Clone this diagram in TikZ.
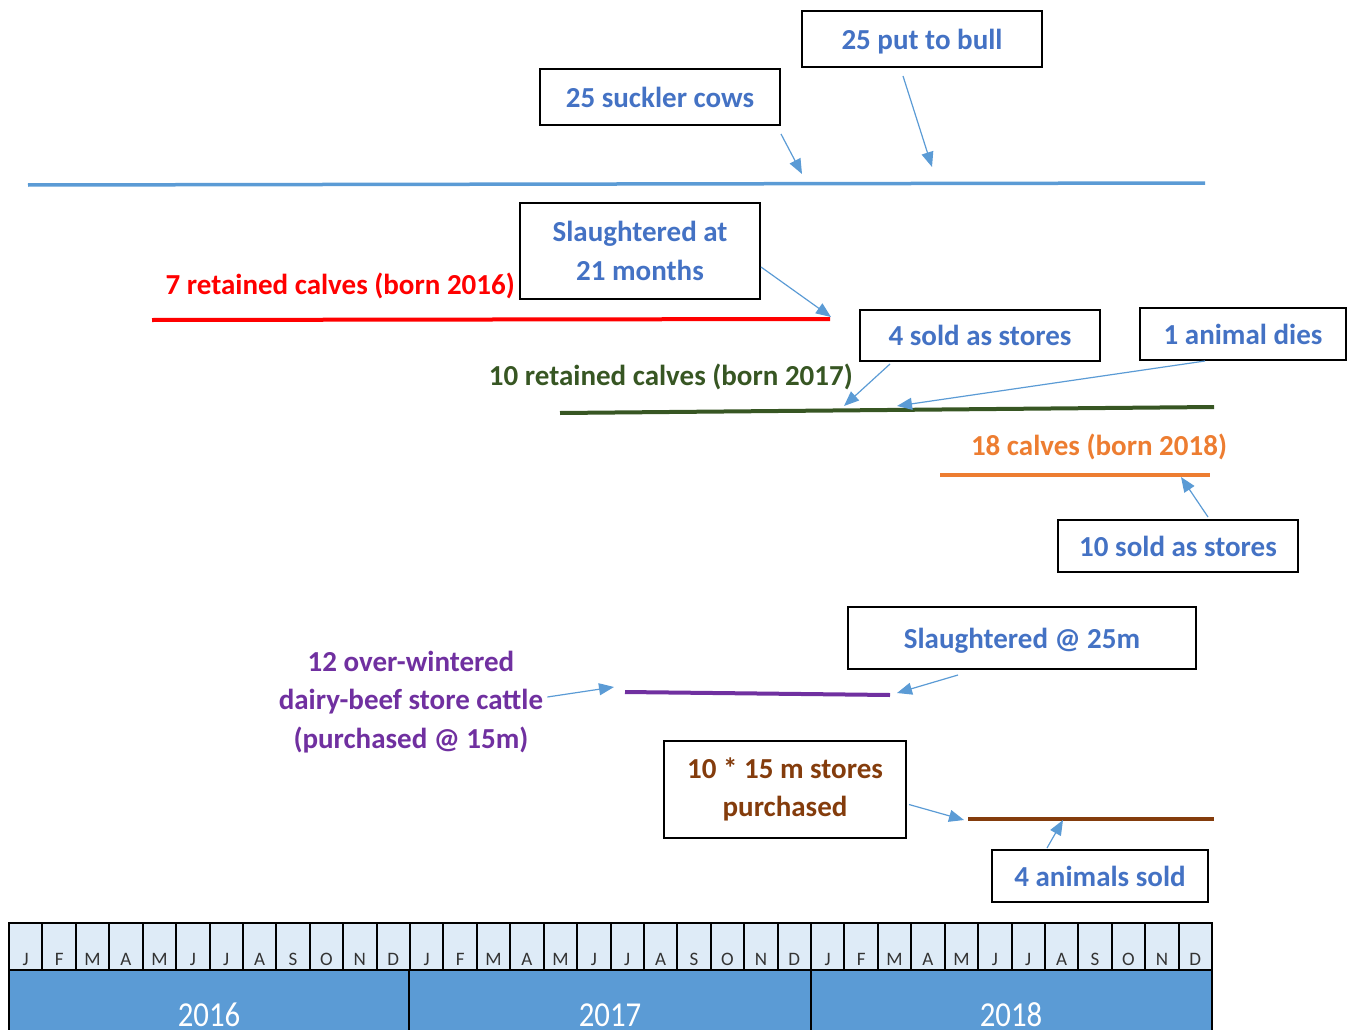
\documentclass[tikz,border=0pt]{standalone}
\usepackage{fontspec}
\setmainfont{Carlito}
\newfontfamily\yearfont{Carlito}[FakeStretch=0.88]
\usetikzlibrary{arrows.meta}
\definecolor{lineblue}{HTML}{5B9BD5}
\definecolor{txtblue}{HTML}{4472C4}
\definecolor{cred}{HTML}{FF0000}
\definecolor{cgreen}{HTML}{375623}
\definecolor{corange}{HTML}{ED7D31}
\definecolor{cpurple}{HTML}{7030A0}
\definecolor{cbrown}{HTML}{843C0C}
\definecolor{monthfill}{HTML}{DEEBF7}
\tikzset{
  bigtxt/.style={font=\bfseries\fontsize{29}{38.5}\selectfont, align=center, inner sep=2pt},
  labelbox/.style={bigtxt, draw=black, line width=2pt, text=txtblue},
  onebox/.style={labelbox, text depth=0pt},
  pointer/.style={draw=lineblue, line width=1.2pt, -{Triangle[length=15pt,width=12pt]}},
  tline/.style={line width=#1, line cap=butt},
  month/.style={font=\fontsize{19}{19}\selectfont, text=black!80, anchor=base},
  yeartxt/.style={font=\yearfont\fontsize{35}{35}\selectfont, text=white, anchor=base, inner sep=0pt},
}
\begin{document}
\begin{tikzpicture}[x=1pt,y=-1pt]
\useasboundingbox (0,0) rectangle (1357,1030);

% boxes
\node[onebox, minimum width=240pt, minimum height=56pt] (sc) at (660,97) {25 suckler cows};
\node[onebox, minimum width=240pt, minimum height=56pt] (bull) at (922,39) {25 put to bull};
\node[labelbox, minimum width=240pt, minimum height=96pt] (sl21) at (640,251) {Slaughtered at\\21 months};
\node[onebox, minimum width=240pt, minimum height=51pt] (s4) at (980,335.5) {4 sold as stores};
\node[onebox, minimum width=206pt, minimum height=52pt] (dies) at (1243,334) {1 animal dies};
\node[onebox, minimum width=240pt, minimum height=52pt] (s10) at (1178,546) {10 sold as stores};
\node[onebox, minimum width=348pt, minimum height=62pt] (sl25) at (1022,638) {Slaughtered @ 25m};
\node[labelbox, text=cbrown, minimum width=242pt, minimum height=97pt] (buy10) at (785,789.5) {10 * 15 m stores\\purchased};
\node[onebox, minimum width=216pt, minimum height=52pt] (sold4) at (1100,876) {4 animals sold};

% free labels
\node[bigtxt, text=cred, anchor=east] (lred) at (517,286) {7 retained calves (born 2016)};
\node[bigtxt, text=cgreen, anchor=east] (lgreen) at (855,377) {10 retained calves (born 2017)};
\node[bigtxt, text=corange] (lorange) at (1099,447) {18 calves (born 2018)};
\node[bigtxt, text=cpurple] (lpurple) at (411,702) {12 over-wintered\\dairy-beef store cattle\\(purchased @ 15m)};

% timelines
\coordinate (cowA) at (28,185); \coordinate (cowB) at (1205,183);
\coordinate (redA) at (152,320); \coordinate (redB) at (830,319);
\coordinate (grnA) at (560,413); \coordinate (grnB) at (1214,407);
\coordinate (orgA) at (940,475); \coordinate (orgB) at (1210,475);
\coordinate (purA) at (625,692); \coordinate (purB) at (890,695);
\coordinate (brnA) at (968,819); \coordinate (brnB) at (1214,819);
\draw[tline=3.5pt, lineblue] (cowA) -- (cowB);
\draw[tline=4pt, cred] (redA) -- (redB);
\draw[tline=4pt, cgreen] (grnA) -- (grnB);
\draw[tline=3.5pt, corange] (orgA) -- (orgB);
\draw[tline=4pt, cpurple] (purA) -- (purB);
\draw[tline=3.5pt, cbrown] (brnA) -- (brnB);

% arrow targets
\coordinate (ta) at (802,174);
\coordinate (tb) at (932,167);
\coordinate (tc) at (831,317);
\coordinate (td) at (844,406);
\coordinate (te) at (897,406);
\coordinate (tf) at (1181,477);
\coordinate (tg) at (614,687);
\coordinate (th) at (897,693);
\coordinate (ti) at (964,820);
\coordinate (tj) at (1063,820);

\draw[pointer] ([yshift=-8pt]sc.south east) -- (ta);
\draw[pointer] ([xshift=-19pt,yshift=-8pt]bull.south) -- (tb);
\draw[pointer] ([yshift=-16pt]sl21.east) -- (tc);
\draw[pointer] ([xshift=-90pt,yshift=-2pt]s4.south) -- (td);
\draw[pointer] ([xshift=-38pt]dies.south) -- (te);
\draw[pointer] ([xshift=30pt,yshift=2pt]s10.north) -- (tf);
\draw[pointer] ([xshift=2pt,yshift=5pt]lpurple.east) -- (tg);
\draw[pointer] ([xshift=-64pt,yshift=-5pt]sl25.south) -- (th);
\draw[pointer] ([xshift=2pt,yshift=-15pt]buy10.east) -- (ti);
\draw[pointer] ([xshift=-53pt,yshift=1pt]sold4.north) -- (tj);

% month bar
\def\bx{9}\def\bw{33.4167}
\fill[monthfill] (9,923) rectangle (1212,970);
\fill[lineblue] (9,970) rectangle (1212,1034);
\foreach \i in {1,...,35}{
  \draw[line width=2pt] ({\bx+\i*\bw},923) -- ({\bx+\i*\bw},970);
}
\draw[line width=2pt] (409.33,970) -- (409.33,1034);
\draw[line width=2pt] (810.67,970) -- (810.67,1034);
\draw[line width=2pt] (9,970) -- (1212,970);
\draw[line width=2pt] (9,1034) -- (9,923) -- (1212,923) -- (1212,1034);
\foreach \y in {0,1,2}{
  \foreach \m [count=\k from 0] in {J,F,M,A,M,J,J,A,S,O,N,D}{
    \node[month] (m\y\k) at ({\bx+(\y*12+\k+0.5)*\bw},965) {\m};
  }
}
\node[yeartxt] (y2016) at (209,1026) {2016};
\node[yeartxt] (y2017) at (610,1026) {2017};
\node[yeartxt] (y2018) at (1011,1026) {2018};
\end{tikzpicture}
\end{document}
